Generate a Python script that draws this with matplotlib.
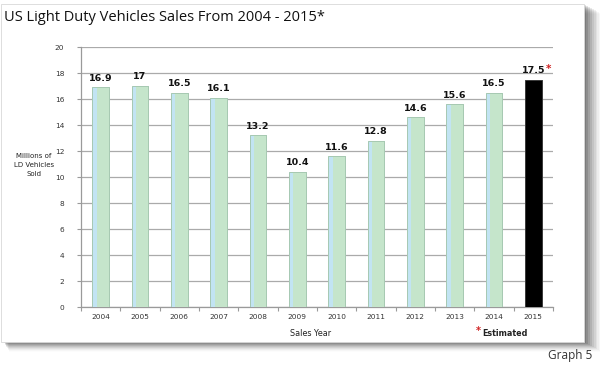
import matplotlib
matplotlib.use("Agg")
import matplotlib.pyplot as plt
from matplotlib.patches import Rectangle
import numpy as np

years = ["2004", "2005", "2006", "2007", "2008", "2009", "2010", "2011",
         "2012", "2013", "2014", "2015"]
sales = [16.9, 17.0, 16.5, 16.1, 13.2, 10.4, 11.6, 12.8, 14.6, 15.6, 16.5, 17.5]
labels = ["16.9", "17", "16.5", "16.1", "13.2", "10.4", "11.6", "12.8",
          "14.6", "15.6", "16.5", "17.5"]
estimated = [False] * 11 + [True]
yticks = [0, 2, 4, 6, 8, 10, 12, 14, 16, 18, 20]

W, H = 600, 365
fig = plt.figure(figsize=(6, 3.65), dpi=100)
fig.patch.set_facecolor("white")

def fx(px):
    return px / W

def fy(py):
    return 1 - py / H

# shadow
for i, a in enumerate(np.linspace(0.35, 0.03, 10)):
    fig.patches.append(Rectangle((fx(4 + i * 0.6), fy(343 + i * 1.0)),
                                 fx(582 + i * 1.3), fy(5) - fy(343),
                                 transform=fig.transFigure,
                                 facecolor="black", alpha=a * 0.35,
                                 edgecolor="none", zorder=0))
# panel
fig.patches.append(Rectangle((fx(1), fy(342)), fx(583), fy(4) - fy(342),
                             transform=fig.transFigure, facecolor="white",
                             edgecolor="#d8d8d8", linewidth=0.6, zorder=1))

ax = fig.add_axes([fx(81), fy(307), fx(553) - fx(81), fy(47) - fy(307)])
ax.set_zorder(2)
ax.patch.set_alpha(0)

x = np.arange(len(years))
bw = 0.43
green = ["#c5e5cb" if not e else "#000000" for e in estimated]
edges = ["#a7c9b2" if not e else "#3a3a3a" for e in estimated]
ax.bar(x, sales, width=bw, color=green, edgecolor=edges, linewidth=0.7, zorder=3)
# light blue strip on left side of each green bar
normal = [i for i, e in enumerate(estimated) if not e]
ax.bar(x[normal] - bw / 2, [sales[i] for i in normal], width=bw * 0.26,
       align="edge", color="#c2e4f3", edgecolor="none", zorder=3.5)
ax.bar(x[normal], [sales[i] for i in normal], width=bw, facecolor="none",
       edgecolor="#a7c9b2", linewidth=0.7, zorder=4)

for xi, v, lab, e in zip(x, sales, labels, estimated):
    ax.text(xi, v + 0.35, lab, ha="center", va="bottom", fontsize=6.8,
            fontweight="bold", family="DejaVu Sans", color="#111111", zorder=5)
    if e:
        ax.text(xi + 0.33, v + 0.45, "*", ha="left", va="bottom", fontsize=7.5,
                fontweight="bold", color="#d02020", zorder=5)

ax.set_xlim(-0.5, len(years) - 0.5)
ax.set_ylim(0, 20)
ax.set_yticks(yticks)
ax.set_yticklabels([str(t) for t in yticks])
ax.set_xticks(x)
ax.set_xticklabels(years)
ax.set_xticks(np.arange(-0.5, len(years), 1.0), minor=True)
ax.tick_params(axis="x", which="major", length=0, pad=5, labelsize=5.3,
               labelcolor="#333333")
ax.tick_params(axis="x", which="minor", length=3, color="#9a9a9a", width=0.8,
               direction="out")
ax.tick_params(axis="y", length=3, color="#9a9a9a", width=0.8, labelsize=5.3,
               labelcolor="#333333", pad=9)
ax.yaxis.grid(True, color="#aaaaaa", linewidth=0.9, zorder=1)
ax.set_axisbelow(True)
for s in ["top", "right"]:
    ax.spines[s].set_visible(False)
for s in ["left", "bottom"]:
    ax.spines[s].set_color("#9a9a9a")
    ax.spines[s].set_linewidth(0.9)

fig.text(fx(4), fy(21), "US Light Duty Vehicles Sales From 2004 - 2015*",
         fontsize=10.5, family="Open Sans", color="#111111", ha="left",
         va="baseline", zorder=5)
fig.text(fx(34), fy(165), "Millions of\nLD Vehicles\nSold", fontsize=5.0,
         ha="center", va="center", color="#222222", linespacing=1.6, zorder=5)
fig.text(fx(311), fy(333), "Sales Year", fontsize=5.8, ha="center",
         va="center", color="#222222", zorder=5)
fig.text(fx(476), fy(331), "*", fontsize=7, ha="left", va="center",
         color="#d02020", fontweight="bold", zorder=5)
fig.text(fx(482), fy(333), "Estimated", fontsize=5.8, ha="left", va="center",
         color="#222222", fontweight="bold", zorder=5)
fig.text(fx(592), fy(356), "Graph 5", fontsize=8.5, family="Open Sans",
         ha="right", va="center", color="#333333", zorder=5)

fig.savefig("out.png", dpi=100, facecolor="white")
